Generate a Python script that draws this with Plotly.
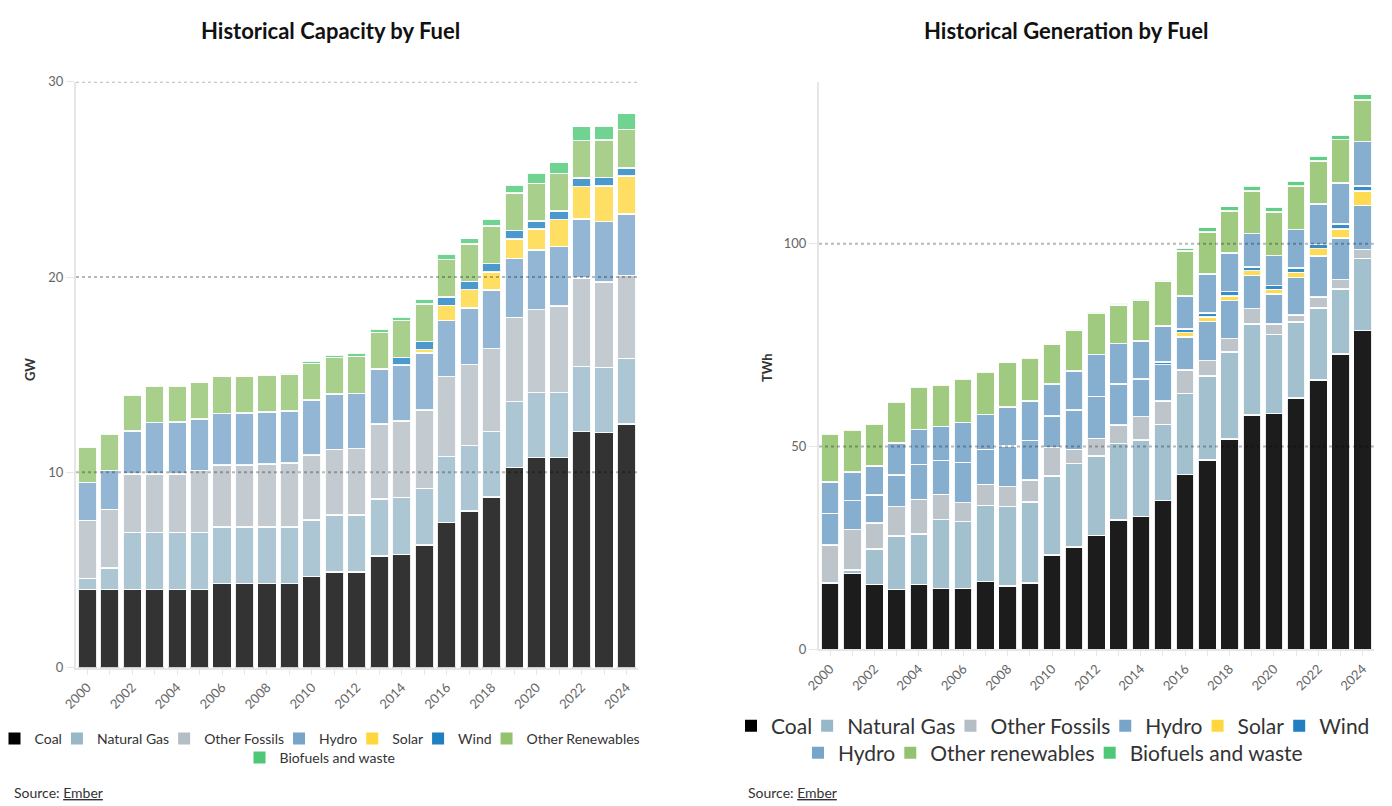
import plotly.graph_objects as go

# ---------------- data ----------------
years = list(range(2000, 2025))
year_labels = [str(y) if y % 2 == 0 else "" for y in years]

# Capacity (GW)
cap_names = ["Coal", "Natural Gas", "Other Fossils", "Hydro", "Solar", "Wind",
             "Other Renewables", "Biofuels and waste"]
cap_coal = [4.01, 4.01, 4.01, 4.01, 4.01, 4.01, 4.30, 4.30, 4.30, 4.30, 4.66, 4.91, 4.91,
            5.73, 5.80, 6.28, 7.44, 8.02, 8.74, 10.26, 10.75, 10.75, 12.08, 12.03, 12.47]
cap_gas = [0.56, 1.09, 2.92, 2.92, 2.92, 2.92, 2.90, 2.90, 2.90, 2.90, 2.90, 2.91, 2.92,
           2.90, 2.92, 2.90, 3.36, 3.35, 3.34, 3.36, 3.33, 3.33, 3.33, 3.35, 3.37]
cap_other_fossils = [2.97, 3.01, 2.98, 2.98, 2.98, 3.16, 3.18, 3.18, 3.23, 3.28, 3.33, 3.36, 3.38,
                     3.84, 3.91, 4.01, 4.10, 4.15, 4.25, 4.31, 4.25, 4.44, 4.53, 4.37, 4.25]
cap_hydro = [1.95, 1.98, 2.22, 2.65, 2.68, 2.64, 2.64, 2.66, 2.66, 2.66, 2.82, 2.82, 2.84,
             2.82, 2.87, 2.91, 2.87, 2.90, 3.01, 3.02, 3.06, 3.04, 3.03, 3.09, 3.13]
cap_solar = [0, 0, 0, 0, 0, 0, 0, 0, 0, 0, 0, 0, 0, 0, 0,
             0.18, 0.78, 0.94, 0.92, 1.00, 1.06, 1.38, 1.66, 1.82, 1.94]
cap_wind = [0, 0, 0, 0, 0, 0, 0, 0, 0, 0, 0, 0, 0, 0,
            0.37, 0.41, 0.43, 0.42, 0.43, 0.43, 0.42, 0.44, 0.43, 0.43, 0.43]
cap_other_ren = [1.82, 1.86, 1.83, 1.86, 1.83, 1.86, 1.88, 1.86, 1.88, 1.88, 1.87, 1.87, 1.89,
                 1.88, 1.90, 1.92, 1.91, 1.90, 1.93, 1.91, 1.93, 1.91, 1.93, 1.93, 1.96]
cap_bio = [0, 0, 0, 0, 0, 0, 0, 0, 0,
           0.05, 0.12, 0.14, 0.16, 0.16, 0.17, 0.25, 0.29, 0.29, 0.35, 0.41, 0.53, 0.57, 0.71, 0.72, 0.82]

# Generation (TWh)
gen_names = ["Coal", "Natural Gas", "Other Fossils", "Hydro", "Solar", "Wind", "Hydro",
             "Other renewables", "Biofuels and waste"]
gen_coal = [16.4, 18.7, 16.0, 14.8, 16.0, 15.0, 15.0, 16.7, 15.6, 16.3, 23.2, 25.2, 28.1,
            31.9, 32.8, 36.7, 43.1, 46.7, 51.9, 57.8, 58.1, 62.0, 66.4, 72.8, 78.6]
gen_gas = [0.0, 0.9, 8.8, 13.2, 12.5, 17.0, 16.5, 18.8, 19.6, 20.0, 19.5, 20.6, 19.6,
           18.8, 18.8, 18.8, 20.0, 20.7, 21.4, 22.4, 19.6, 18.7, 17.8, 16.1, 17.8]
gen_other_fossils = [9.3, 9.9, 6.3, 7.2, 8.5, 6.2, 4.7, 5.2, 4.9, 5.4, 7.1, 3.5, 4.3,
                     4.6, 5.8, 5.8, 5.8, 3.8, 3.3, 3.8, 2.5, 1.7, 2.7, 2.3, 2.2]
gen_hydro = [7.8, 7.2, 7.0, 7.8, 8.6, 8.4, 9.9, 8.6, 10.0, 9.8, 7.8, 9.7, 10.4,
             10.1, 9.3, 8.9, 8.1, 9.7, 9.4, 8.2, 7.4, 9.3, 10.1, 10.2, 10.9]
gen_solar = [0, 0, 0, 0, 0, 0, 0, 0, 0, 0, 0, 0, 0, 0, 0, 0,
             1.1, 1.1, 1.2, 1.2, 1.2, 1.3, 1.8, 2.3, 3.6]
gen_wind = [0, 0, 0, 0, 0, 0, 0, 0, 0, 0, 0, 0, 0, 0, 0,
            0.7, 0.9, 1.0, 1.0, 0.9, 0.9, 1.1, 1.0, 1.2, 1.2]
gen_hydro_2 = [7.8, 7.0, 7.1, 7.9, 8.6, 8.4, 9.9, 8.6, 9.7, 9.8, 7.8, 9.7, 10.3,
               10.0, 9.3, 8.9, 8.2, 9.6, 9.5, 8.2, 7.4, 9.4, 10.0, 10.1, 10.9]
gen_other_ren = [11.8, 10.4, 10.4, 10.0, 10.4, 10.1, 10.6, 10.4, 10.9, 10.5, 9.9, 10.0, 10.1,
                 9.5, 10.2, 11.0, 11.0, 10.3, 10.4, 10.6, 10.8, 10.8, 10.6, 10.7, 10.3]
gen_bio = [0, 0, 0, 0, 0, 0, 0, 0, 0, 0, 0.1, 0.2, 0.3, 0.4, 0.3, 0.3,
           0.8, 1.1, 1.1, 1.1, 1.2, 1.2, 1.2, 1.2, 1.4]

cap_yticks = [0, 10, 20, 30]
gen_yticks = [0, 50, 100]

# ---------------- styles ----------------
C_COAL = "#000000"
C_GAS = "#98b8c8"
C_OF = "#b5bec4"
C_HYDRO = "#77a4c9"
C_SOLAR = "#ffd73c"
C_WIND = "#1f7fc0"
C_OR = "#93c370"
C_BIO = "#4ec877"

cap_series = [cap_coal, cap_gas, cap_other_fossils, cap_hydro, cap_solar, cap_wind, cap_other_ren, cap_bio]
cap_colors = [C_COAL, C_GAS, C_OF, C_HYDRO, C_SOLAR, C_WIND, C_OR, C_BIO]
gen_series = [gen_coal, gen_gas, gen_other_fossils, gen_hydro, gen_solar, gen_wind, gen_hydro_2,
              gen_other_ren, gen_bio]
gen_colors = [C_COAL, C_GAS, C_OF, C_HYDRO, C_SOLAR, C_WIND, C_HYDRO, C_OR, C_BIO]


def blend(hexc, a):
    h = hexc.lstrip("#")
    r, g, b = (int(h[i:i + 2], 16) for i in (0, 2, 4))
    f = lambda c: round(c * a + 255 * (1 - a))
    return f"rgb({f(r)},{f(g)},{f(b)})"


def clean(vals):
    return [v if v else None for v in vals]


FONT = "Lato, 'Noto Sans', sans-serif"
W, H = 1392, 806

fig = go.Figure()

# left chart bars
for name, vals, col in zip(cap_names, cap_series, cap_colors):
    fig.add_trace(go.Bar(
        x=years, y=clean(vals), name=name, width=0.83,
        marker=dict(color=blend(col, 0.8), line=dict(color="rgba(255,255,255,0.9)", width=1.5)),
        xaxis="x", yaxis="y", showlegend=False,
        hovertemplate="%{x}: %{y} GW<extra>" + name + "</extra>"))
# right chart bars
for name, vals, col in zip(gen_names, gen_series, gen_colors):
    fig.add_trace(go.Bar(
        x=years, y=clean(vals), name=name, width=0.81,
        marker=dict(color=blend(col, 0.89), line=dict(color="rgba(255,255,255,0.9)", width=1.5)),
        xaxis="x2", yaxis="y2", showlegend=False,
        hovertemplate="%{x}: %{y} TWh<extra>" + name + "</extra>"))

# legend entries (full colour swatches)
for i, (name, col) in enumerate(zip(cap_names, cap_colors)):
    fig.add_trace(go.Bar(x=[None], y=[None], name=name, marker=dict(color=col, line=dict(width=0)),
                         xaxis="x", yaxis="y", legend="legend" if i < 7 else "legend2"))
for i, (name, col) in enumerate(zip(gen_names, gen_colors)):
    fig.add_trace(go.Bar(x=[None], y=[None], name=name, marker=dict(color=col, line=dict(width=0)),
                         xaxis="x2", yaxis="y2", legend="legend3" if i < 6 else "legend4"))

axis_common = dict(showgrid=False, zeroline=False, showline=True, linecolor="#e6e6e6", linewidth=2,
                   automargin=False, ticks="outside", tickcolor="#e6e6e6",
                   tickfont=dict(size=13, color="#666", family=FONT))


def leg(xc, yc, size):
    return dict(orientation="h", x=xc / W, xanchor="center", y=1 - yc / H, yanchor="middle",
                font=dict(size=size, color="#333", family=FONT), indentation=-10,
                traceorder="normal", bgcolor="rgba(0,0,0,0)")


fig.update_layout(
    template="none",
    width=W, height=H, margin=dict(l=0, r=0, t=0, b=0, autoexpand=False),
    paper_bgcolor="white", plot_bgcolor="white",
    font=dict(family=FONT, color="#333"),
    barmode="stack",
    xaxis=dict(domain=[76 / W, 637.7 / W], range=[1999.5, 2024.5], anchor="y",
               tickmode="array", tickvals=years, ticktext=year_labels, tickangle=-45, ticklen=5,
               **axis_common),
    yaxis=dict(domain=[(H - 667.7) / H, (H - 81.7) / H], range=[0, 30], anchor="x",
               tickmode="array", tickvals=cap_yticks, ticklen=8, **axis_common),
    xaxis2=dict(domain=[819 / W, 1373.8 / W], range=[1999.5, 2024.5], anchor="y2",
                tickmode="array", tickvals=years, ticktext=year_labels, tickangle=-45, ticklen=5,
                **axis_common),
    yaxis2=dict(domain=[(H - 649.3) / H, (H - 81.7) / H], range=[0, 140], anchor="x2",
                tickmode="array", tickvals=gen_yticks, ticklen=8, **axis_common),
    legend=leg(325, 739, 14),
    legend2=leg(325, 758, 14),
    legend3=leg(1058, 726, 21),
    legend4=leg(1058, 753, 21),
)

# dotted gridlines drawn above the bars
for v in cap_yticks[1:]:
    fig.add_shape(type="line", xref="x domain", yref="y", x0=0, x1=1, y0=v, y1=v, layer="above",
                  line=dict(color="rgba(0,0,0,0.28)", width=2, dash="3px,3px"))
for v in gen_yticks[1:]:
    fig.add_shape(type="line", xref="x2 domain", yref="y2", x0=0, x1=1, y0=v, y1=v, layer="above",
                  line=dict(color="rgba(0,0,0,0.28)", width=2, dash="3px,3px"))

ann = [
    dict(text="<b>Historical Capacity by Fuel</b>", x=330 / W, y=1 - 30 / H, font=dict(size=22, color="#111")),
    dict(text="<b>Historical Generation by Fuel</b>", x=1066 / W, y=1 - 30 / H, font=dict(size=22, color="#111")),
    dict(text="<b>GW</b>", x=30 / W, y=1 - 370 / H, textangle=-90, font=dict(size=13, color="#333")),
    dict(text="<b>TWh</b>", x=767 / W, y=1 - 368 / H, textangle=-90, font=dict(size=13, color="#333")),
    dict(text="Source: <u>Ember</u>", x=12 / W, y=1 - 792 / H, xanchor="left", font=dict(size=14, color="#333")),
    dict(text="Source: <u>Ember</u>", x=746 / W, y=1 - 792 / H, xanchor="left", font=dict(size=14, color="#333")),
]
for a in ann:
    a.setdefault("xanchor", "center")
    fig.add_annotation(xref="paper", yref="paper", yanchor="middle", showarrow=False,
                       font_family=FONT, **a)

fig.write_html("out.html")
